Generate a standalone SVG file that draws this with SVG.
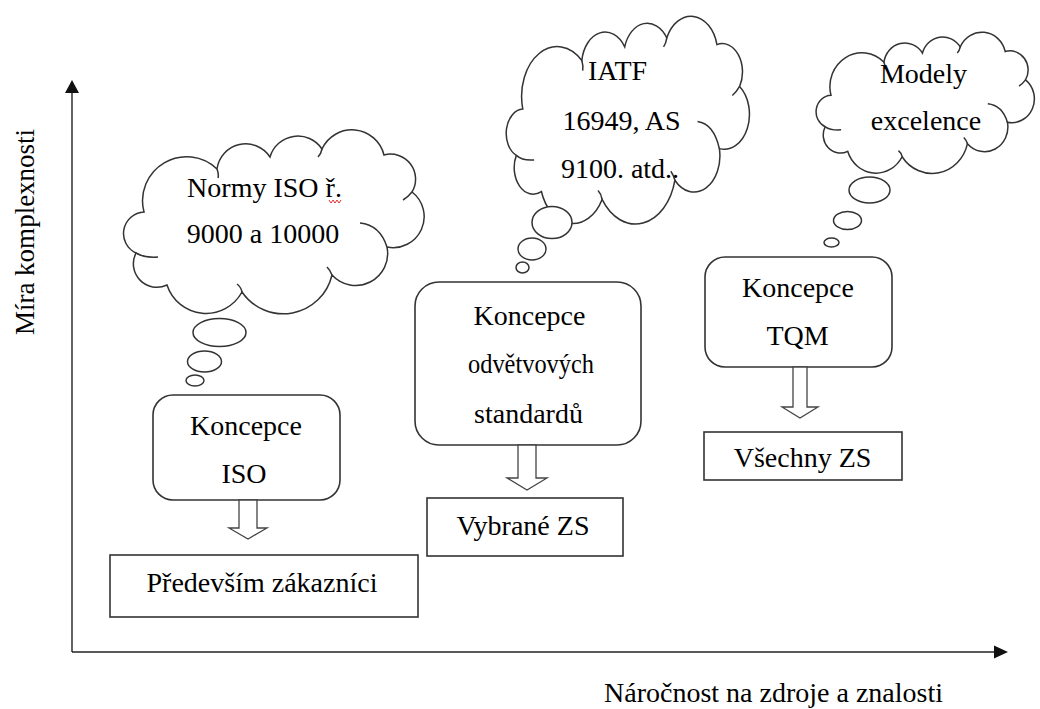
<svg xmlns="http://www.w3.org/2000/svg" width="1040" height="709" viewBox="0 0 1040 709">
<style>
.t{font-family:"Liberation Serif","Times New Roman",serif;font-size:28px;fill:#000;text-anchor:middle}
.ln{fill:none;stroke:#222;stroke-width:1.4}
.box{fill:#fff;stroke:#333;stroke-width:1.6}
.cl{fill:#fff;stroke:#333;stroke-width:1.5;vector-effect:non-scaling-stroke}
.hk{fill:none;stroke:#333;stroke-width:1.5;vector-effect:non-scaling-stroke}
.bub{fill:#fff;stroke:#333;stroke-width:1.5}
.barrow{fill:#fff;stroke:#444;stroke-width:1.3}
</style>
<defs>
<g id="cloudShape">
<path class="cl" d="M22,85 A44,44 0 0 1 95,42 A29,29 0 0 1 148,30 A29,29 0 0 1 200,22 A33,33 0 0 1 262,28 A25,25 0 0 1 290,65 A31,31 0 0 1 265,120 A32,32 0 0 1 210,148 A50,50 0 0 1 120,165 A41,41 0 0 1 45,158 A23.5,23.5 0 0 1 14,126 A21.5,21.5 0 0 1 22,85 Z"/>
<path class="hk" d="M14,126 Q22,131 36,130 M95,42 q2,5 1,9 M200,22 q-1,5 -4,8 M290,65 q-4,5 -9,8 M238,96 Q258,98 265,120 M210,148 q-2,-5 -5,-8 M120,165 q-1,-5 -5,-8"/>
</g>
</defs>

<g id="axes">
<line class="ln" x1="72" y1="652" x2="72" y2="90"/>
<polygon points="72,80 65,93 79,93" fill="#111"/>
<line class="ln" x1="72" y1="652" x2="996" y2="652"/>
<polygon points="1008,652 994,645.5 994,658.5" fill="#111"/>
<text class="t" transform="translate(34,232) rotate(-90)" style="font-size:27px">Míra komplexnosti</text>
<text class="t" x="773.5" y="702">Náročnost na zdroje a znalosti</text>
</g>

<g id="cloud-iso">
<use href="#cloudShape" transform="translate(122,127)"/>
<ellipse class="bub" cx="219.5" cy="332.5" rx="26.5" ry="14"/>
<ellipse class="bub" cx="204.5" cy="361.5" rx="17" ry="10.5"/>
<ellipse class="bub" cx="195" cy="380.5" rx="9" ry="5.5"/>
<text class="t" x="264.5" y="197">Normy ISO ř.</text>
<path d="M329,200 l2,3 l2,-3 l2,3 l2,-3 l2,3 l2,-3" fill="none" stroke="#e03030" stroke-width="1"/>
<text class="t" x="263" y="243">9000 a 10000</text>
</g>

<g id="cloud-iatf">
<use href="#cloudShape" transform="translate(505,13) scale(0.809,1.13)"/>
<ellipse class="bub" cx="552" cy="222.5" rx="20" ry="16"/>
<ellipse class="bub" cx="532" cy="249" rx="14" ry="11"/>
<ellipse class="bub" cx="522.5" cy="267.5" rx="6.5" ry="5.5"/>
<text class="t" x="617.5" y="80">IATF</text>
<text class="t" x="621.5" y="130">16949, AS</text>
<text class="t" x="620" y="178">9100. atd..</text>
</g>

<g id="cloud-excellence">
<use href="#cloudShape" transform="translate(815,30) scale(0.726,0.768)"/>
<ellipse class="bub" cx="869.5" cy="190" rx="20.5" ry="13"/>
<ellipse class="bub" cx="847.5" cy="220.5" rx="14" ry="9"/>
<ellipse class="bub" cx="831.5" cy="242.5" rx="7.5" ry="4.5"/>
<text class="t" x="923.5" y="83">Modely</text>
<text class="t" x="926" y="130">excelence</text>
</g>

<g id="node-iso">
<rect class="box" x="153" y="395" width="187" height="105" rx="20"/>
<text class="t" x="246" y="435">Koncepce</text>
<text class="t" x="244" y="483">ISO</text>
</g>

<g id="node-odvetvove">
<rect class="box" x="415" y="282" width="226" height="163" rx="24"/>
<text class="t" x="529.5" y="325">Koncepce</text>
<text class="t" x="531" y="373" textLength="126" lengthAdjust="spacingAndGlyphs">odvětvových</text>
<text class="t" x="528.5" y="423">standardů</text>
</g>

<g id="node-tqm">
<rect class="box" x="705" y="257" width="187" height="110" rx="20"/>
<text class="t" x="798" y="297">Koncepce</text>
<text class="t" x="797.5" y="345">TQM</text>
</g>

<g id="node-zakaznici">
<rect class="box" x="110" y="555" width="308" height="62"/>
<text class="t" x="262" y="592">Především zákazníci</text>
</g>

<g id="node-vybrane">
<rect class="box" x="427" y="498" width="196" height="58"/>
<text class="t" x="523" y="535">Vybrané ZS</text>
</g>

<g id="node-vsechny">
<rect class="box" x="704" y="432" width="198" height="48"/>
<text class="t" x="802.5" y="467">Všechny ZS</text>
</g>

<g id="connectors">
<polygon class="barrow" points="239,500 257,500 257,528 267,528 248,539 229,528 239,528"/>
<polygon class="barrow" points="518,445 536,445 536,478 547,478 527,490 507,478 518,478"/>
<polygon class="barrow" points="793,367 807,367 807,407 818,407 800,418 782,407 793,407"/>
</g>
</svg>
